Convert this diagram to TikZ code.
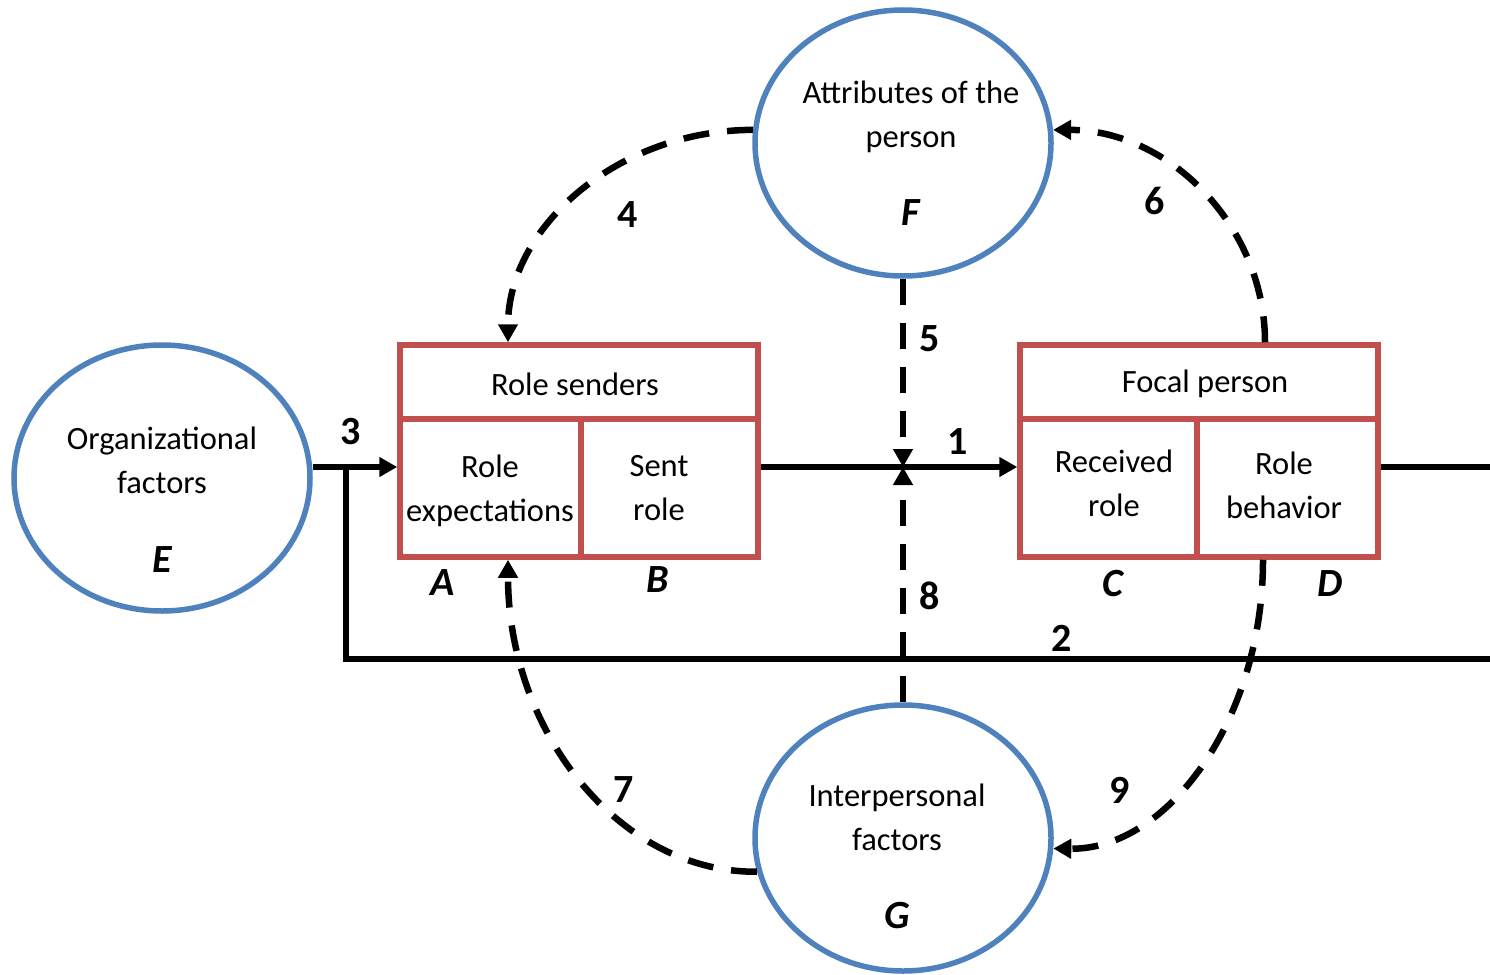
\documentclass[tikz,border=0pt]{standalone}
\usepackage{fontspec}
\setmainfont{Carlito}
\usetikzlibrary{shapes.geometric,arrows.meta}
\definecolor{ringblue}{HTML}{4F81BD}
\definecolor{boxred}{HTML}{C0504D}
\begin{document}
\begin{tikzpicture}[x=1pt,y=-1pt,
  ring/.style={ellipse, draw=ringblue, line width=5.5pt, minimum width=296pt, minimum height=266pt, inner sep=0pt},
  cell/.style={rectangle, draw=boxred, line width=5.5pt, inner sep=0pt},
  txt/.style={align=center, font=\fontsize{32.5}{44}\selectfont, inner sep=0pt},
  tag/.style={font=\fontsize{40}{44}\selectfont\bfseries\itshape, inner sep=0pt},
  num/.style={font=\fontsize{40}{44}\selectfont\bfseries, inner sep=0pt},
  link/.style={line width=6.5pt, draw=black},
  tip/.style={-{Triangle[length=18pt,width=19pt]}},
  dashlink/.style={link, dash pattern=on 26pt off 18pt}
]
\useasboundingbox (0,0) rectangle (1490,974);

% outer factors
\node[ring] (E) at (162,478) {};
\node[ring] (F) at (903,143) {};
\node[ring] (G) at (903,838) {};

% role senders block
\node[cell, minimum width=358pt, minimum height=74pt]  (rsTop) at (579,382) {};
\node[cell, minimum width=181pt, minimum height=138pt] (rsA)   at (490.5,488) {};
\node[cell, minimum width=177pt, minimum height=138pt] (rsB)   at (669.5,488) {};

% focal person block
\node[cell, minimum width=358pt, minimum height=74pt]  (fpTop) at (1199,382) {};
\node[cell, minimum width=177pt, minimum height=138pt] (fpC)   at (1108.5,488) {};
\node[cell, minimum width=181pt, minimum height=138pt] (fpD)   at (1287.5,488) {};

% helper points
\coordinate (in3) at ([yshift=21pt]rsA.west);
\coordinate (fork) at (346,467);
\coordinate (farLow) at (1490,659);
\coordinate (farHigh) at (1490,467);
\coordinate (cross) at (903,467);

% solid flows
\draw[link,tip] (E.east |- in3) -- (in3);
\draw[link] (fork) |- (farLow);
\draw[link,tip] (rsB.east |- in3) -- (fpC.west |- in3);
\draw[link] (fpD.east |- in3) -- (farHigh);

% dashed influences
\draw[dashlink,tip] (F.south) -- (cross);
\draw[dashlink,tip] (G.north) -- (cross);
\draw[dashlink,tip] (F.175) .. controls (619,130) and (508,226) .. ([xshift=-71pt]rsTop.north);
\draw[dashlink,tip] ([xshift=66pt]fpTop.north) .. controls (1265,226) and (1169,130) .. (F.5);
\draw[dashlink,tip] (G.193) .. controls (619,873) and (508,731) .. ([xshift=17.5pt]rsA.south);
\draw[dashlink,tip] ([xshift=-24.5pt]fpD.south) .. controls (1263,719) and (1168,850) .. (G.356);

% texts
\node[txt] (tE)  at (162,460)  {Organizational\\factors};
\node[txt] (tF)  at (911,117)  {Attributes of the\\person};
\node[txt] (tG)  at (897,817)  {Interpersonal\\factors};
\node[txt] (tRS) at (575,384)  {Role senders};
\node[txt] (tRE) at (490,491)  {Role\\expectations};
\node[txt] (tSR) at (659,488)  {Sent\\role};
\node[txt] (tFP) at (1205,384) {Focal person};
\node[txt] (tRR) at (1114,483) {Received\\role};
\node[txt] (tRB) at (1284,485) {Role\\behavior};

% letter tags
\node[tag] (lA) at (443,583)  {A};
\node[tag] (lB) at (658,580)  {B};
\node[tag] (lC) at (1113,584) {C};
\node[tag] (lD) at (1330,584) {D};
\node[tag] (lE) at (162,560)  {E};
\node[tag] (lF) at (911,213)  {F};
\node[tag] (lG) at (897,916)  {G};

% link numbers
\node[num] (n1) at (958,442)  {1};
\node[num] (n2) at (1062,638) {2};
\node[num] (n3) at (351,432)  {3};
\node[num] (n4) at (628,215)  {4};
\node[num] (n5) at (930,339)  {5};
\node[num] (n6) at (1155,201) {6};
\node[num] (n7) at (624,790)  {7};
\node[num] (n8) at (930,596)  {8};
\node[num] (n9) at (1120,790) {9};
\end{tikzpicture}
\end{document}
